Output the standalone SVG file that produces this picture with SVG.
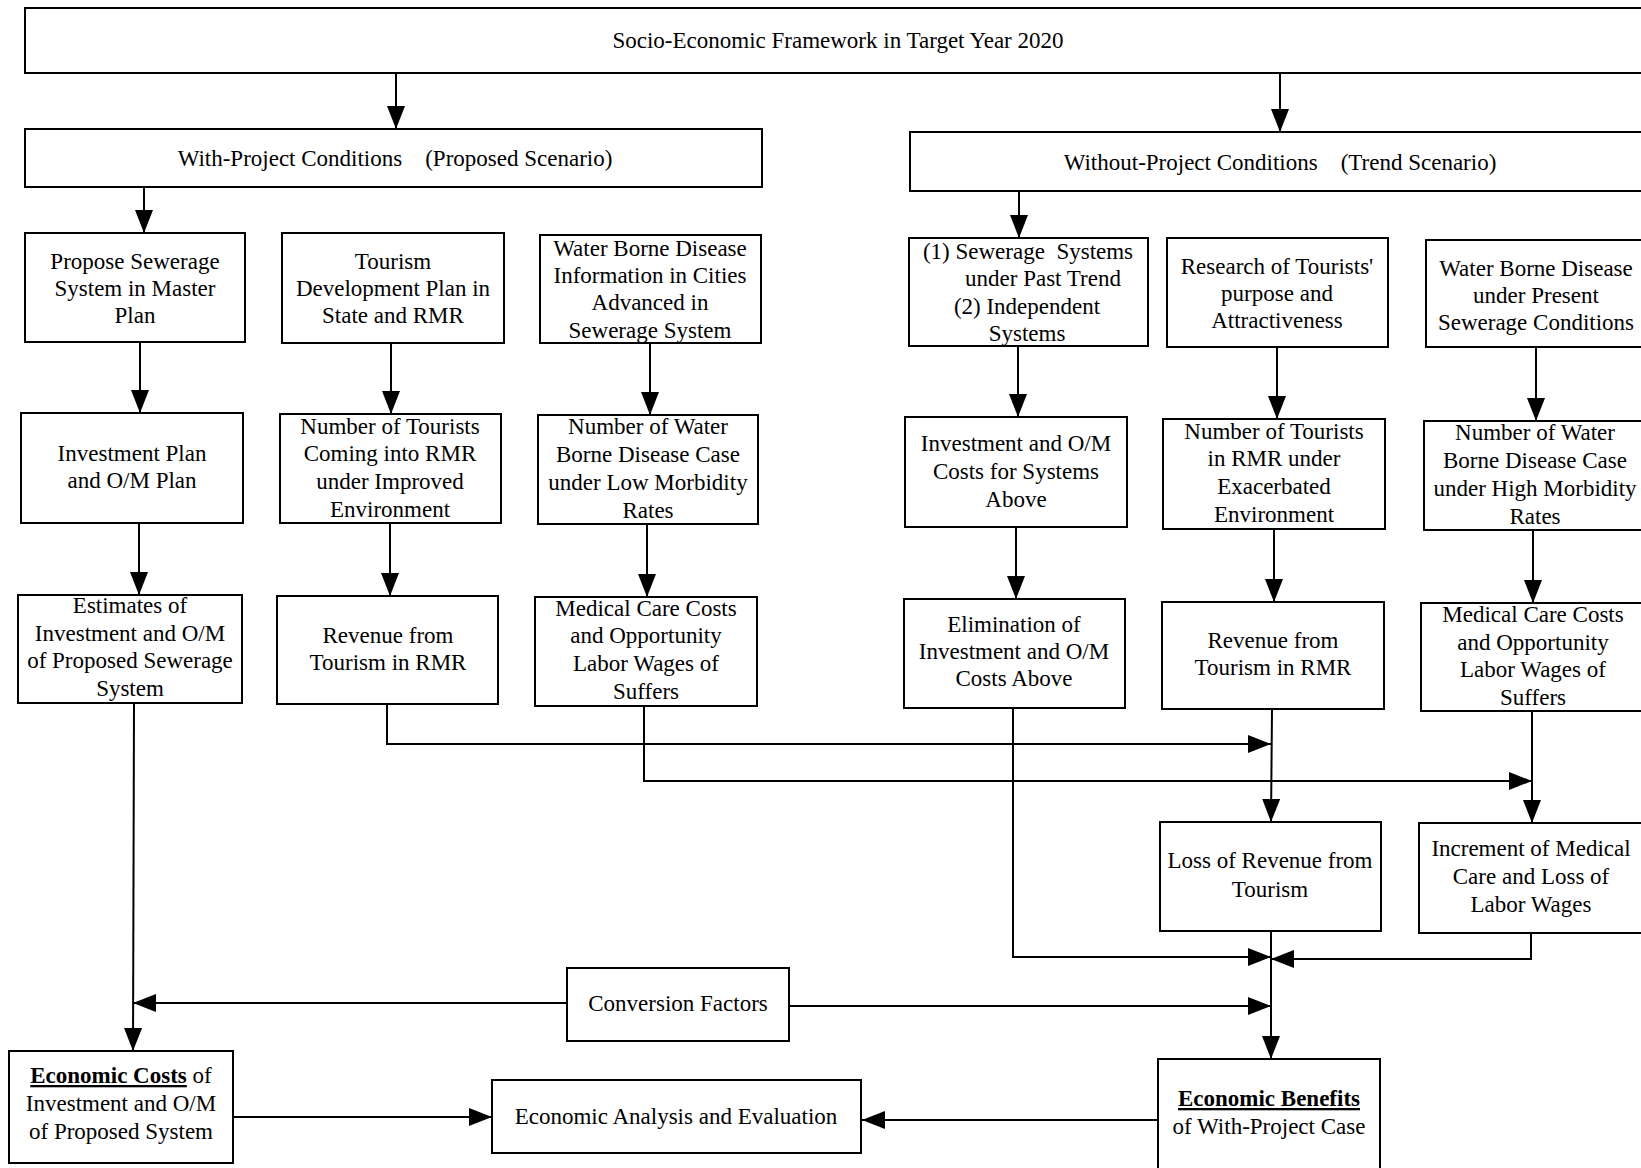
<svg xmlns="http://www.w3.org/2000/svg" width="1641" height="1168" viewBox="0 0 1641 1168">
<style>
  .box { fill: #fff; stroke: #000; stroke-width: 2; }
  .t { font-family: "Liberation Serif", "Times New Roman", serif; font-size: 23px; fill: #000; text-anchor: middle; }
  .c { fill: none; stroke: #000; stroke-width: 2; }
  .b { font-weight: bold; text-decoration: underline; }
</style>
<defs>
  <marker id="ah" markerUnits="userSpaceOnUse" markerWidth="24" markerHeight="18" refX="23" refY="9" orient="auto">
    <path d="M0,0 L23,9 L0,18 z" fill="#000"/>
  </marker>
</defs>
<rect width="1641" height="1168" fill="#fff"/>

<g id="connectors">
  <line class="c" x1="396" y1="72" x2="396" y2="129" marker-end="url(#ah)"/>
  <line class="c" x1="1280" y1="74" x2="1280" y2="132" marker-end="url(#ah)"/>
  <line class="c" x1="144" y1="187" x2="144" y2="233" marker-end="url(#ah)"/>
  <line class="c" x1="1019" y1="191" x2="1019" y2="238" marker-end="url(#ah)"/>
  <line class="c" x1="140" y1="342" x2="140" y2="413" marker-end="url(#ah)"/>
  <line class="c" x1="391" y1="343" x2="391" y2="414" marker-end="url(#ah)"/>
  <line class="c" x1="650" y1="343" x2="650" y2="415" marker-end="url(#ah)"/>
  <line class="c" x1="1018" y1="346" x2="1018" y2="417" marker-end="url(#ah)"/>
  <line class="c" x1="1277" y1="347" x2="1277" y2="419" marker-end="url(#ah)"/>
  <line class="c" x1="1536" y1="347" x2="1536" y2="421" marker-end="url(#ah)"/>
  <line class="c" x1="139" y1="523" x2="139" y2="595" marker-end="url(#ah)"/>
  <line class="c" x1="390" y1="523" x2="390" y2="596" marker-end="url(#ah)"/>
  <line class="c" x1="647" y1="524" x2="647" y2="597" marker-end="url(#ah)"/>
  <line class="c" x1="1016" y1="527" x2="1016" y2="599" marker-end="url(#ah)"/>
  <line class="c" x1="1274" y1="529" x2="1274" y2="602" marker-end="url(#ah)"/>
  <line class="c" x1="1533" y1="530" x2="1533" y2="603" marker-end="url(#ah)"/>
  <line class="c" x1="134" y1="703" x2="133" y2="1051" marker-end="url(#ah)"/>
  <polyline class="c" points="387,704 387,744 1271,744" marker-end="url(#ah)"/>
  <polyline class="c" points="644,706 644,781 1532,781" marker-end="url(#ah)"/>
  <line class="c" x1="1272" y1="709" x2="1271" y2="822" marker-end="url(#ah)"/>
  <line class="c" x1="1532" y1="711" x2="1532" y2="823" marker-end="url(#ah)"/>
  <polyline class="c" points="1013,708 1013,957 1271,957" marker-end="url(#ah)"/>
  <polyline class="c" points="1531,933 1531,959 1271,959" marker-end="url(#ah)"/>
  <line class="c" x1="1271" y1="931" x2="1271" y2="1059" marker-end="url(#ah)"/>
  <line class="c" x1="567" y1="1003" x2="133" y2="1003" marker-end="url(#ah)"/>
  <line class="c" x1="789" y1="1006" x2="1271" y2="1006" marker-end="url(#ah)"/>
  <line class="c" x1="233" y1="1117" x2="492" y2="1117" marker-end="url(#ah)"/>
  <line class="c" x1="1158" y1="1120" x2="862" y2="1120" marker-end="url(#ah)"/>
</g>

<g id="n-top">
  <rect class="box" x="25" y="8" width="1640" height="65"/>
  <text class="t" x="838" y="48">Socio-Economic Framework in Target Year 2020</text>
</g>
<g id="n-with">
  <rect class="box" x="25" y="129" width="737" height="58"/>
  <text class="t" x="395" y="166" xml:space="preserve">With-Project Conditions    (Proposed Scenario)</text>
</g>
<g id="n-without">
  <rect class="box" x="910" y="132" width="760" height="59"/>
  <text class="t" x="1280" y="170" xml:space="preserve">Without-Project Conditions    (Trend Scenario)</text>
</g>

<g id="n-propose">
  <rect class="box" x="25" y="233" width="220" height="109"/>
  <text class="t" x="135" y="269">Propose Sewerage</text>
  <text class="t" x="135" y="296">System in Master</text>
  <text class="t" x="135" y="323">Plan</text>
</g>
<g id="n-tourism">
  <rect class="box" x="282" y="233" width="222" height="110"/>
  <text class="t" x="393" y="269">Tourism</text>
  <text class="t" x="393" y="296">Development Plan in</text>
  <text class="t" x="393" y="323">State and RMR</text>
</g>
<g id="n-wbd">
  <rect class="box" x="540" y="235" width="221" height="108"/>
  <text class="t" x="650" y="256">Water Borne Disease</text>
  <text class="t" x="650" y="283">Information in Cities</text>
  <text class="t" x="650" y="310">Advanced in</text>
  <text class="t" x="650" y="338">Sewerage System</text>
</g>
<g id="n-sewtrend">
  <rect class="box" x="909" y="238" width="239" height="108"/>
  <text class="t" x="1028" y="259" xml:space="preserve">(1) Sewerage  Systems</text>
  <text class="t" x="1043" y="286">under Past Trend</text>
  <text class="t" x="1027" y="314">(2) Independent</text>
  <text class="t" x="1027" y="341">Systems</text>
</g>
<g id="n-research">
  <rect class="box" x="1167" y="238" width="221" height="109"/>
  <text class="t" x="1277" y="274">Research of Tourists'</text>
  <text class="t" x="1277" y="301">purpose and</text>
  <text class="t" x="1277" y="328">Attractiveness</text>
</g>
<g id="n-wbdpresent">
  <rect class="box" x="1426" y="240" width="240" height="107"/>
  <text class="t" x="1536" y="276">Water Borne Disease</text>
  <text class="t" x="1536" y="303">under Present</text>
  <text class="t" x="1536" y="330">Sewerage Conditions</text>
</g>

<g id="n-invplan">
  <rect class="box" x="21" y="413" width="222" height="110"/>
  <text class="t" x="132" y="461">Investment Plan</text>
  <text class="t" x="132" y="488">and O/M Plan</text>
</g>
<g id="n-numtour">
  <rect class="box" x="280" y="414" width="221" height="109"/>
  <text class="t" x="390" y="434">Number of Tourists</text>
  <text class="t" x="390" y="461">Coming into RMR</text>
  <text class="t" x="390" y="489">under Improved</text>
  <text class="t" x="390" y="517">Environment</text>
</g>
<g id="n-numwater">
  <rect class="box" x="538" y="415" width="220" height="109"/>
  <text class="t" x="648" y="434">Number of Water</text>
  <text class="t" x="648" y="462">Borne Disease Case</text>
  <text class="t" x="648" y="490">under Low Morbidity</text>
  <text class="t" x="648" y="518">Rates</text>
</g>
<g id="n-invcosts">
  <rect class="box" x="905" y="417" width="222" height="110"/>
  <text class="t" x="1016" y="451">Investment and O/M</text>
  <text class="t" x="1016" y="479">Costs for Systems</text>
  <text class="t" x="1016" y="507">Above</text>
</g>
<g id="n-numtourrmr">
  <rect class="box" x="1163" y="419" width="222" height="110"/>
  <text class="t" x="1274" y="439">Number of Tourists</text>
  <text class="t" x="1274" y="466">in RMR under</text>
  <text class="t" x="1274" y="494">Exacerbated</text>
  <text class="t" x="1274" y="522">Environment</text>
</g>
<g id="n-numwaterhigh">
  <rect class="box" x="1424" y="421" width="240" height="109"/>
  <text class="t" x="1535" y="440">Number of Water</text>
  <text class="t" x="1535" y="468">Borne Disease Case</text>
  <text class="t" x="1535" y="496">under High Morbidity</text>
  <text class="t" x="1535" y="524">Rates</text>
</g>

<g id="n-estimates">
  <rect class="box" x="18" y="595" width="224" height="108"/>
  <text class="t" x="130" y="613">Estimates of</text>
  <text class="t" x="130" y="641">Investment and O/M</text>
  <text class="t" x="130" y="668">of Proposed Sewerage</text>
  <text class="t" x="130" y="696">System</text>
</g>
<g id="n-revenue">
  <rect class="box" x="277" y="596" width="221" height="108"/>
  <text class="t" x="388" y="643">Revenue from</text>
  <text class="t" x="388" y="670">Tourism in RMR</text>
</g>
<g id="n-medical">
  <rect class="box" x="535" y="597" width="222" height="109"/>
  <text class="t" x="646" y="616">Medical Care Costs</text>
  <text class="t" x="646" y="643">and Opportunity</text>
  <text class="t" x="646" y="671">Labor Wages of</text>
  <text class="t" x="646" y="699">Suffers</text>
</g>
<g id="n-elimination">
  <rect class="box" x="904" y="599" width="221" height="109"/>
  <text class="t" x="1014" y="632">Elimination of</text>
  <text class="t" x="1014" y="659">Investment and O/M</text>
  <text class="t" x="1014" y="686">Costs Above</text>
</g>
<g id="n-revenue2">
  <rect class="box" x="1162" y="602" width="222" height="107"/>
  <text class="t" x="1273" y="648">Revenue from</text>
  <text class="t" x="1273" y="675">Tourism in RMR</text>
</g>
<g id="n-medical2">
  <rect class="box" x="1421" y="603" width="245" height="108"/>
  <text class="t" x="1533" y="622">Medical Care Costs</text>
  <text class="t" x="1533" y="650">and Opportunity</text>
  <text class="t" x="1533" y="677">Labor Wages of</text>
  <text class="t" x="1533" y="705">Suffers</text>
</g>

<g id="n-loss">
  <rect class="box" x="1160" y="822" width="221" height="109"/>
  <text class="t" x="1270" y="868">Loss of Revenue from</text>
  <text class="t" x="1270" y="897">Tourism</text>
</g>
<g id="n-increment">
  <rect class="box" x="1419" y="823" width="247" height="110"/>
  <text class="t" x="1531" y="856">Increment of Medical</text>
  <text class="t" x="1531" y="884">Care and Loss of</text>
  <text class="t" x="1531" y="912">Labor Wages</text>
</g>
<g id="n-conversion">
  <rect class="box" x="567" y="968" width="222" height="73"/>
  <text class="t" x="678" y="1011">Conversion Factors</text>
</g>
<g id="n-costs">
  <rect class="box" x="9" y="1051" width="224" height="112"/>
  <text class="t" x="121" y="1083"><tspan class="b">Economic Costs</tspan> of</text>
  <text class="t" x="121" y="1111">Investment and O/M</text>
  <text class="t" x="121" y="1139">of Proposed System</text>
</g>
<g id="n-analysis">
  <rect class="box" x="492" y="1080" width="369" height="73"/>
  <text class="t" x="676" y="1124">Economic Analysis and Evaluation</text>
</g>
<g id="n-benefits">
  <rect class="box" x="1158" y="1059" width="222" height="130"/>
  <text class="t" x="1269" y="1106"><tspan class="b">Economic Benefits</tspan></text>
  <text class="t" x="1269" y="1134">of With-Project Case</text>
</g>
</svg>
